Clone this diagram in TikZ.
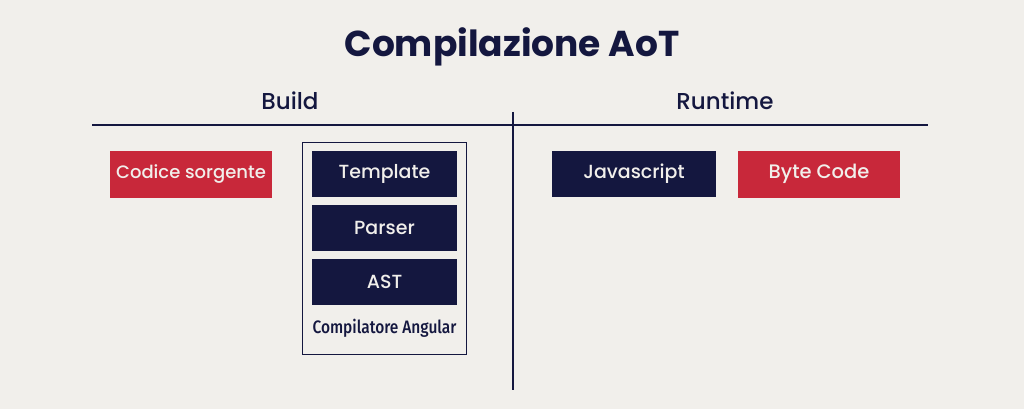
\documentclass[tikz,border=0pt]{standalone}
\usepackage{fontspec}
\setmainfont{Poppins}
\newfontfamily\medfont{Poppins Medium}
\newfontfamily\condfont[FakeStretch=0.86]{Fira Sans Medium}
\usepackage{tikz}
\usetikzlibrary{positioning}

\definecolor{paper}{HTML}{F1EFEB}
\definecolor{navy}{HTML}{14173F}
\definecolor{crimson}{HTML}{C8283A}

\tikzset{
  redbox/.style={fill=crimson, text=paper, minimum width=162pt, minimum height=47pt, font=\medfont\fontsize{18}{21}\selectfont},
  navybox/.style={fill=navy, text=paper, minimum width=145pt, minimum height=46pt, font=\medfont\fontsize{19}{22}\selectfont},
  frame/.style={draw=navy, line width=1pt, minimum width=164pt, minimum height=212pt},
  rule/.style={draw=navy, line width=1.6pt},
}

\begin{document}
\begin{tikzpicture}[x=1pt, y=-1pt]

            \fill[paper] (0,0) rectangle (1024,409);
            \useasboundingbox (0,0) rectangle (1024,409);

            \node[text=navy, font=\fontsize{36}{40}\selectfont\bfseries] (title) at (512,47) {Compilazione AoT};
            \node[text=navy, font=\medfont\fontsize{23}{26}\selectfont] (build) at (290,101) {Build};
            \node[text=navy, font=\medfont\fontsize{23}{26}\selectfont] (runtime) at (725,101) {Runtime};

            \coordinate (hl) at (92,125);
            \coordinate (hr) at (928,125);
            \coordinate (vt) at (513,112);
            \coordinate (vb) at (513,390);
            \draw[rule] (hl) -- (hr); %
            \draw[rule] (vt) -- (vb); %

            \node[redbox] (src) at (191,174) {Codice sorgente};

            \node[frame] (compiler) at (384,248) {};
            \node[navybox] (tpl) at (384.5,173.5) {Template};
            \node[navybox, below=8pt of tpl] (parser) {Parser};
            \node[navybox, below=8pt of parser] (ast) {AST};
            \node[text=navy, font=\condfont\fontsize{18}{20}\selectfont, below=10pt of ast] (label) {Compilatore Angular};

            \node[navybox, minimum width=164pt] (js) at (634,173.5) {Javascript};
            \node[redbox, font=\medfont\fontsize{19.5}{22}\selectfont] (bytecode) at (819,174) {Byte Code};

\end{tikzpicture}
\end{document}
